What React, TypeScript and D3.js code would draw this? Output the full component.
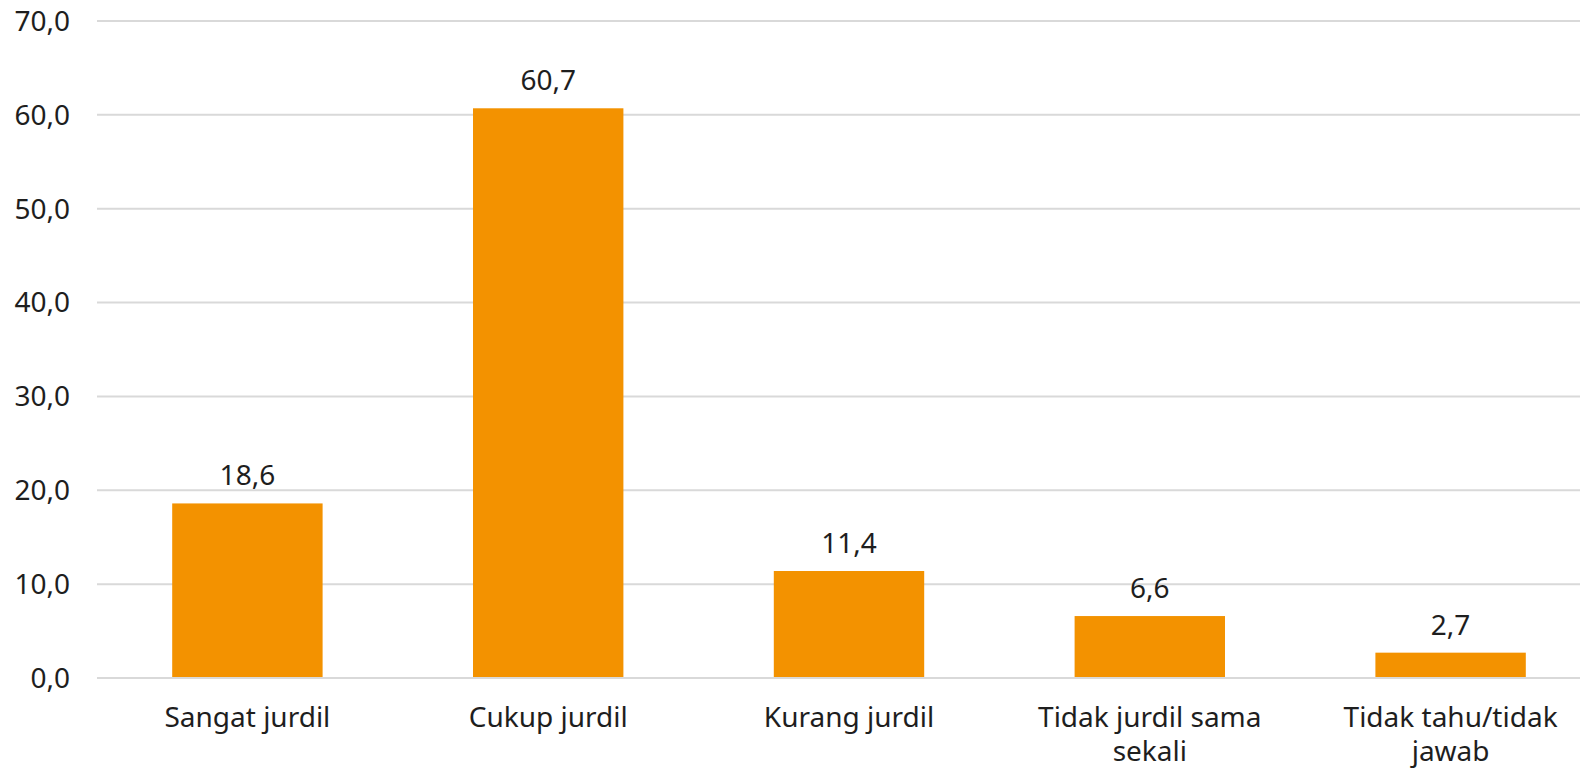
import React, { useEffect, useRef } from "react";
import * as d3 from "d3";

const categories = [
  "Sangat jurdil",
  "Cukup jurdil",
  "Kurang jurdil",
  "Tidak jurdil sama sekali",
  "Tidak tahu/tidak jawab",
];
const values = [18.6, 60.7, 11.4, 6.6, 2.7];
const yTicks = [0, 10, 20, 30, 40, 50, 60, 70];

const W = 1580;
const H = 769;
const FONT = "'Noto Sans', 'DejaVu Sans', sans-serif";
const FS = 28;

export default function App() {
  const ref = useRef<SVGSVGElement | null>(null);

  useEffect(() => {
    const svg = d3.select(ref.current);
    svg.selectAll("*").remove();

    const x = d3.scaleBand<string>().domain(categories).range([97, 1601]).paddingInner(0.5).paddingOuter(0.25);
    const y = d3.scaleLinear().domain([0, 70]).range([678, 21]);
    const fmt = (v: number) => d3.format(".1f")(v).replace(".", ",");

    svg
      .append("g")
      .selectAll("line")
      .data(yTicks)
      .join("line")
      .attr("x1", 97)
      .attr("x2", W)
      .attr("y1", (d) => y(d))
      .attr("y2", (d) => y(d))
      .attr("stroke", "#d9d9d9")
      .attr("stroke-width", 2);

    svg
      .append("g")
      .selectAll("text")
      .data(yTicks)
      .join("text")
      .attr("x", 70)
      .attr("y", (d) => y(d))
      .attr("dy", "0.35em")
      .attr("text-anchor", "end")
      .attr("font-family", FONT)
      .attr("font-size", FS)
      .attr("fill", "#1e1e1e")
      .text((d) => fmt(d));

    svg
      .append("g")
      .selectAll("rect")
      .data(values)
      .join("rect")
      .attr("x", (_, i) => x(categories[i])!)
      .attr("width", x.bandwidth())
      .attr("y", (d) => y(d))
      .attr("height", (d) => y(0) - y(d) - 1)
      .attr("fill", "#f39200");

    svg
      .append("g")
      .selectAll("text")
      .data(values)
      .join("text")
      .attr("x", (_, i) => x(categories[i])! + x.bandwidth() / 2)
      .attr("y", (d) => y(d) - 18)
      .attr("text-anchor", "middle")
      .attr("font-family", FONT)
      .attr("font-size", FS)
      .attr("fill", "#1e1e1e")
      .text((d) => fmt(d));

    const maxW = 265;
    const g = svg.append("g");
    categories.forEach((c) => {
      const cx = x(c)! + x.bandwidth() / 2;
      const t = g
        .append("text")
        .attr("x", cx)
        .attr("y", 727)
        .attr("text-anchor", "middle")
        .attr("font-family", FONT)
        .attr("font-size", FS)
        .attr("fill", "#1e1e1e");
      const words = c.split(" ");
      let line: string[] = [];
      let tspan = t.append("tspan").attr("x", cx).attr("dy", 0);
      for (const w of words) {
        line.push(w);
        tspan.text(line.join(" "));
        const node = tspan.node() as SVGTSpanElement;
        if (node.getComputedTextLength() > maxW && line.length > 1) {
          line.pop();
          tspan.text(line.join(" "));
          line = [w];
          tspan = t.append("tspan").attr("x", cx).attr("dy", 34).text(w);
        }
      }
    });
  }, []);

  return (
    <svg
      ref={ref}
      width={W}
      height={H}
      style={{ position: "absolute", left: 0, top: 0, background: "#fff" }}
    />
  );
}
